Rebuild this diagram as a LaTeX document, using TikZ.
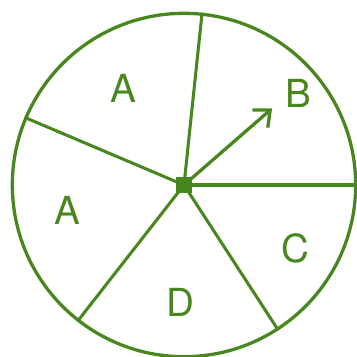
\documentclass[tikz,border=0pt]{standalone}
\usepackage{fontspec}
\setsansfont{TeX Gyre Heros}
\usepackage{tikz}
\usetikzlibrary{arrows.meta}
\definecolor{spingreen}{RGB}{72,135,30}
\tikzset{
  wheelring/.style={circle,draw=spingreen,line width=2.8pt,minimum size=10.3cm,inner sep=0pt},
  hubbox/.style={rectangle,fill=spingreen,minimum size=4.8mm,inner sep=0pt},
  spoke/.style={draw=spingreen,line width=2.6pt},
  pointer/.style={-{Straight Barb[length=4mm,width=7mm,line width=2.8pt]},draw=spingreen,line width=2.8pt},
  sector/.style={text=spingreen,font=\sffamily\fontsize{33}{33}\selectfont,inner sep=0pt},
}
\begin{document}
\begin{tikzpicture}
  \useasboundingbox (-5.52,-5.13) rectangle (5.19,5.55);
  \node[wheelring] (wheel) at (0,0) {};
  \node[hubbox] (hub) at (0,0) {};
  \coordinate (tip) at (41:3.5);
  % spokes
  \foreach \a in {84,157,0,232,-57}
    \draw[spoke] (hub.center) -- (wheel.\a);
  \draw[pointer] (hub.center) -- (tip);
  % sector labels
  \node[sector] (atop) at (-1.83,2.91) {A};
  \node[sector] (b) at (3.42,2.76) {B};
  \node[sector] (aleft) at (-3.51,-0.75) {A};
  \node[sector] (c) at (3.33,-1.89) {C};
  \node[sector] (d) at (-0.12,-3.51) {D};
\end{tikzpicture}
\end{document}
